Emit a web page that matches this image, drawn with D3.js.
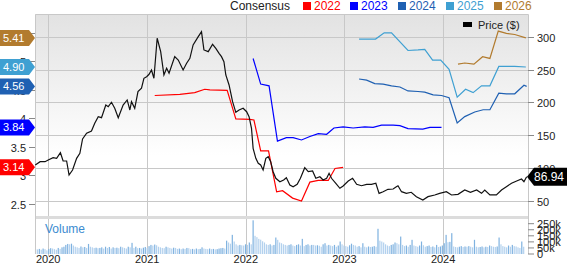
<!DOCTYPE html>
<html><head><meta charset="utf-8">
<script src="https://cdn.jsdelivr.net/npm/d3@7"></script>
<style>body{margin:0;background:#fff}svg{display:block;font-family:"Liberation Sans",Arial,sans-serif}</style>
</head><body><svg id="c" width="568" height="264"></svg>
<script>
// ---------------- DATA ----------------
const price = [["2019-11-14",104.7],["2019-12-02",109.7],["2019-12-20",109.7],["2020-01-01",112.3],["2020-01-19",115.8],["2020-02-01",114.9],["2020-02-15",123.4],["2020-02-25",110.8],["2020-03-09",110.8],["2020-03-18",89.5],["2020-03-31",97.1],["2020-04-15",114.9],["2020-04-27",122.5],["2020-05-07",144.3],["2020-05-22",153],["2020-06-09",156.5],["2020-06-21",168.2],["2020-07-04",178.2],["2020-07-16",176.7],["2020-08-01",196],["2020-08-10",193.5],["2020-08-22",200.2],["2020-09-03",191],["2020-09-16",176.7],["2020-10-04",196],["2020-10-19",203.7],["2020-10-29",188.4],["2020-11-04",201.1],["2020-11-16",191],["2020-11-28",216.3],["2020-12-11",221.5],["2020-12-20",236.7],["2020-12-30",239.1],["2021-01-08",242.8],["2021-01-17",249.3],["2021-01-26",236.7],["2021-02-07",297.6],["2021-02-20",277.2],["2021-03-04",241.7],["2021-03-14",251.9],["2021-03-23",244.3],["2021-04-13",269.6],["2021-04-26",264.5],["2021-05-14",249.3],["2021-05-27",259.5],["2021-06-08",267.1],["2021-06-20",287.4],["2021-07-09",300],["2021-07-21",307.6],["2021-07-30",279.8],["2021-08-15",277.2],["2021-08-31",288.4],["2021-09-12",282.3],["2021-09-24",274.7],["2021-10-03",269.6],["2021-10-12",262],["2021-10-19",241.7],["2021-10-31",226.5],["2021-11-13",201.1],["2021-11-25",184.9],["2021-12-07",188.4],["2021-12-22",191],["2022-01-04",185.8],["2022-01-13",178.2],["2022-01-22",160.6],["2022-01-28",130.1],["2022-02-07",114.9],["2022-02-16",107.3],["2022-02-25",104.7],["2022-03-06",97.1],["2022-03-16",114.9],["2022-03-25",117.4],["2022-04-03",109.7],["2022-04-12",94.5],["2022-04-22",84.5],["2022-05-07",79.3],["2022-05-21",81.9],["2022-05-31",85.4],["2022-06-13",74.3],["2022-06-25",71.7],["2022-07-10",75.3],["2022-07-22",84.5],["2022-08-07",100.6],["2022-08-20",94.5],["2022-09-05",95.6],["2022-09-17",84.5],["2022-10-02",86.9],["2022-10-14",81.9],["2022-10-27",84.5],["2022-11-05",92.1],["2022-11-14",84.5],["2022-11-30",76.9],["2022-12-15",69.3],["2022-12-27",72.8],["2023-01-15",80.4],["2023-01-31",84.5],["2023-02-15",75.3],["2023-03-05",73.2],["2023-03-24",75.3],["2023-04-11",75.3],["2023-04-27",76.9],["2023-05-09",61.6],["2023-05-24",64.1],["2023-06-11",67.7],["2023-06-30",68.2],["2023-07-12",71.7],["2023-07-18",73.2],["2023-07-31",64.1],["2023-08-18",61.6],["2023-09-05",63.2],["2023-09-24",56.5],["2023-10-18",51.4],["2023-11-06",56.5],["2023-12-01",59.1],["2023-12-19",61.6],["2024-01-13",64.1],["2024-02-01",59.1],["2024-02-25",60.1],["2024-03-21",66.7],["2024-04-11",63.2],["2024-05-04",66.7],["2024-05-22",61.6],["2024-06-03",66.7],["2024-06-22",59.1],["2024-07-16",59.1],["2024-08-04",66.7],["2024-08-22",71.7],["2024-09-10",76.9],["2024-09-29",80.4],["2024-10-17",83.4],["2024-10-26",79.3],["2024-11-05",86.94]];

const eps2022 = [["2021-01-29",4.40],["2021-05-02",4.42],["2021-06-26",4.45],["2021-08-02",4.51],["2021-08-21",4.50],["2021-10-24",4.49],["2021-11-25",3.99],["2022-01-16",3.98],["2022-01-31",3.97],["2022-02-25",3.43],["2022-03-26",3.43],["2022-04-25",2.71],["2022-05-17",2.73],["2022-06-23",2.60],["2022-07-26",2.55],["2022-08-26",2.88],["2022-09-26",2.91],["2022-11-02",2.91],["2022-11-27",3.12],["2022-12-27",3.14]];
const eps2023 = [["2022-01-28",5.05],["2022-02-25",4.60],["2022-03-28",4.57],["2022-04-28",3.60],["2022-05-31",3.66],["2022-06-25",3.66],["2022-07-26",3.62],["2022-08-26",3.68],["2022-09-26",3.73],["2022-10-27",3.72],["2022-11-23",3.83],["2022-12-27",3.85],["2023-02-02",3.83],["2023-03-17",3.85],["2023-04-17",3.84],["2023-05-18",3.88],["2023-06-30",3.88],["2023-07-25",3.87],["2023-08-24",3.82],["2023-10-18",3.81],["2023-11-13",3.84],["2023-12-26",3.84]];
const eps2024 = [["2023-02-24",4.69],["2023-03-24",4.67],["2023-04-23",4.61],["2023-05-24",4.60],["2023-06-24",4.57],["2023-07-25",4.55],["2023-08-24",4.48],["2023-09-30",4.47],["2023-10-25",4.46],["2023-11-25",4.41],["2023-12-26",4.40],["2024-01-23",4.36],["2024-02-22",3.92],["2024-03-21",4.03],["2024-04-27",4.11],["2024-05-28",4.15],["2024-06-22",4.15],["2024-07-25",4.44],["2024-08-22",4.43],["2024-09-22",4.43],["2024-10-26",4.58],["2024-11-05",4.56]];
const eps2025 = [["2023-02-24",5.39],["2023-04-26",5.39],["2023-05-28",5.50],["2023-06-24",5.50],["2023-08-24",5.19],["2023-09-30",5.20],["2023-10-25",5.21],["2023-11-23",5.02],["2023-12-23",5.02],["2024-01-23",4.86],["2024-02-22",4.37],["2024-03-24",4.51],["2024-04-21",4.45],["2024-05-22",4.57],["2024-06-22",4.57],["2024-07-25",4.91],["2024-09-22",4.91],["2024-11-02",4.90]];
const eps2026 = [["2024-02-25",4.95],["2024-03-21",4.97],["2024-04-24",4.95],["2024-05-26",5.08],["2024-06-22",5.05],["2024-07-23",5.53],["2024-08-22",5.49],["2024-09-22",5.47],["2024-11-02",5.41]];

const seriesNames = ["2022","2023","2024","2025","2026"];
const seriesColors = ["#ff0000","#0000ff","#1f60b2","#3fa0d2","#b27b2e"];
const lastEps = [3.14,3.84,4.56,4.90,5.41];
const lastPrice = 86.94;

// weekly volume (thousands), first week 2019-11-15
const volumeStart = "2019-11-15";
const volume = [40,38,42,36,45,40,30,42,48,45,40,35,
50,42,55,60,75,83,80,85,70,60,55,50,62,
55,58,50,83,60,55,50,52,48,50,55,45,60,
50,58,45,55,50,52,48,60,55,50,45,60,55,
92,50,60,48,50,45,52,58,50,65,75,70,78,
72,60,55,50,48,60,55,50,45,52,50,42,45,
40,45,42,50,48,40,42,38,45,40,42,55,45,
42,40,45,40,42,38,40,45,48,50,45,110,95,
85,158,103,80,70,75,72,70,80,75,95,80,278,
150,139,125,118,105,95,80,75,80,70,75,136,117,
95,89,80,75,70,75,80,70,65,75,80,70,125,
65,75,80,70,75,75,70,72,68,60,80,89,70,
75,70,65,75,60,70,103,80,70,65,60,72,85,
75,70,60,65,55,89,60,55,62,58,60,65,60,
208,110,103,95,80,70,65,75,80,95,89,80,144,
75,65,70,60,75,117,70,65,60,70,103,72,60,
65,70,58,62,55,75,58,62,70,89,158,97,100,
172,62,58,55,60,65,58,62,60,65,60,55,117,
60,55,58,62,55,60,58,70,65,60,58,62,136,
80,65,60,55,70,60,75,65,62,55,50,103,60];

const priceTicks = [50,100,150,200,250,300];
const epsTicks = [2.5,3,3.5,4,4.5,5,5.5];
const volTicks = [0,50,100,150,200,250];
const volTickLabels = ["0","50k","100k","150k","200k","250k"];
const yearTicks = ["2020","2021","2022","2023","2024"];

// ---------------- CHART ----------------
const parse = d3.utcParse("%Y-%m-%d");
const svg = d3.select("#c");
const L=35, R=528, T=14, B=216, VT=219, VB=254;

const x = d3.scaleUtc().domain([parse("2019-11-13"), parse("2024-11-10")]).range([L,R]);
const yP = d3.scaleLinear().domain([27.1,334.5]).range([B,T]);
const yE = d3.scaleLinear().domain([2.286,5.83]).range([B,T]);
const yV = d3.scaleLinear().domain([0,250]).range([VB,223.7]);

const defs = svg.append("defs");
const g = defs.append("linearGradient").attr("id","bg").attr("x1",0).attr("y1",0).attr("x2",0).attr("y2",1);
g.append("stop").attr("offset","0%").attr("stop-color","#e2e2e2");
g.append("stop").attr("offset","70%").attr("stop-color","#ffffff");

svg.append("rect").attr("x",L).attr("y",T).attr("width",R-L).attr("height",B-T).attr("fill","url(#bg)");

const grid = "#c8c8c8";
svg.append("g").selectAll("line").data(priceTicks).join("line")
  .attr("x1",L).attr("x2",R).attr("y1",d=>Math.round(yP(d))+0.5).attr("y2",d=>Math.round(yP(d))+0.5)
  .attr("stroke",grid).attr("stroke-width",1);
svg.append("g").selectAll("line").data(yearTicks).join("line")
  .attr("x1",d=>Math.round(x(parse(d+"-01-01")))+0.5).attr("x2",d=>Math.round(x(parse(d+"-01-01")))+0.5)
  .attr("y1",T).attr("y2",VB+2).attr("stroke",grid).attr("stroke-width",1);

svg.append("rect").attr("x",L).attr("y",B).attr("width",R-L).attr("height",VT-B).attr("fill","#dcdcdc");

const v0 = parse(volumeStart);
const volData = volume.map((v,i)=>({d:d3.utcWeek.offset(v0,i), v, up: i>0 && v>volume[i-1]}));
svg.append("g").selectAll("rect").data(volData).join("rect")
  .attr("x",d=>x(d.d)-0.6).attr("width",1.2)
  .attr("y",d=>yV(d.v)).attr("height",d=>VB-yV(d.v))
  .attr("fill",d=>d.up?"#7fb2e0":"#b3d1ee");

svg.append("path").attr("d",`M${L+0.5},${VB}V${T+0.5}H${R+0.5}V${VB}`).attr("fill","none").attr("stroke",grid);

const epsSets = [eps2022,eps2023,eps2024,eps2025,eps2026];
const lineE = d3.line().x(d=>x(parse(d[0]))).y(d=>yE(d[1]));
epsSets.forEach((s,i)=>{
  svg.append("path").attr("d",lineE(s)).attr("fill","none").attr("stroke",seriesColors[i]).attr("stroke-width",1.2);
});
const lineP = d3.line().x(d=>x(parse(d[0]))).y(d=>yP(d[1]));
svg.append("path").attr("d",lineP(price)).attr("fill","none").attr("stroke","#111").attr("stroke-width",1.2);

const ra = svg.append("g").attr("font-size",11).attr("fill","#222");
priceTicks.forEach(t=>{
  const yy = Math.round(yP(t))+0.5;
  ra.append("line").attr("x1",R).attr("x2",R+6).attr("y1",yy).attr("y2",yy).attr("stroke","#888");
  ra.append("text").attr("x",R+9).attr("y",yy+4).text(t);
});
volTicks.forEach((t,i)=>{
  const yy = yV(t);
  ra.append("line").attr("x1",R).attr("x2",R+6).attr("y1",yy).attr("y2",yy).attr("stroke","#888");
  ra.append("text").attr("x",R+9).attr("y",yy+4).text(volTickLabels[i]);
});
const la = svg.append("g").attr("font-size",11).attr("fill","#222");
epsTicks.forEach(t=>{
  const yy = Math.round(yE(t))+0.5;
  la.append("line").attr("x1",L-6).attr("x2",L).attr("y1",yy).attr("y2",yy).attr("stroke","#888");
  la.append("text").attr("x",L-9).attr("y",yy+4).attr("text-anchor","end").text(t);
});
svg.append("g").selectAll("text").data(yearTicks).join("text")
  .attr("x",d=>x(parse(d+"-01-01"))).attr("y",263).attr("text-anchor","middle")
  .attr("font-size",11).attr("fill","#222").text(d=>d);

svg.append("text").attr("x",45).attr("y",233).attr("font-size",12).attr("fill","#3b8bd0").text("Volume");

lastEps.forEach((v,i)=>{
  const yy = yE(v);
  const tg = svg.append("g").attr("transform",`translate(0,${yy})`);
  tg.append("path").attr("d","M0,-8H29L35,0L29,8H0Z").attr("fill",seriesColors[i]);
  tg.append("text").attr("x",3).attr("y",4).attr("font-size",11).attr("fill","#fff").text(d3.format(".2f")(v));
});
{
  const yy = yP(lastPrice);
  const tg = svg.append("g").attr("transform",`translate(${R-1},${yy})`);
  tg.append("path").attr("d","M0,0L7,-9H40V9H7Z").attr("fill","#000");
  tg.append("text").attr("x",7).attr("y",4.5).attr("font-size",12).attr("fill","#fff").text(d3.format(".2f")(lastPrice));
}

const lg = svg.append("g").attr("font-size",12);
lg.append("text").attr("x",230).attr("y",10).attr("fill","#222").text("Consensus");
const legX = [303,350,398,446,494];
seriesNames.forEach((n,i)=>{
  lg.append("rect").attr("x",legX[i]).attr("y",2).attr("width",8).attr("height",8).attr("fill",seriesColors[i]);
  lg.append("text").attr("x",legX[i]+11).attr("y",10).attr("fill",seriesColors[i]).text(n);
});
svg.append("rect").attr("x",463).attr("y",22).attr("width",9).attr("height",5).attr("fill","#000");
svg.append("text").attr("x",478).attr("y",29).attr("font-size",11).attr("fill","#222").text("Price ($)");
</script></body></html>
